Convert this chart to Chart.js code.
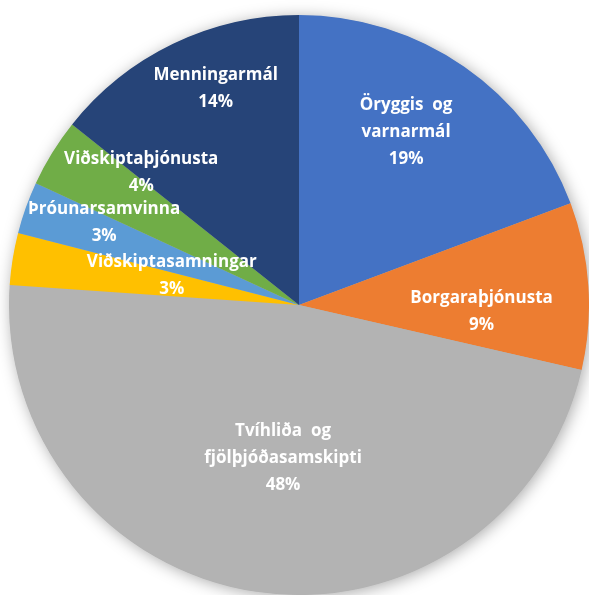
<!DOCTYPE html>
<html>
<head>
<meta charset="utf-8">
<script src="https://cdn.jsdelivr.net/npm/chart.js@4/dist/chart.umd.min.js"></script>
<style>
  html, body { margin: 0; padding: 0; background: #fff; overflow: hidden; }
  #wrap { position: relative; width: 589px; height: 595px; }
</style>
</head>
<body>
<div id="wrap"><canvas id="pie-canvas"></canvas></div>
<script>
const labels = [
  ["Öryggis  og", "varnarmál"],
  ["Borgaraþjónusta"],
  ["Tvíhliða  og", "fjölþjóðasamskipti"],
  ["Viðskiptasamningar"],
  ["Þróunarsamvinna"],
  ["Viðskiptaþjónusta"],
  ["Menningarmál"]
]
const shares = [19.3, 9.3, 47.5, 2.9, 2.9, 3.8, 14.3]
const percentText = ["19%", "9%", "48%", "3%", "3%", "4%", "14%"]

const colors = ["#4472C4", "#ED7D31", "#B3B3B3", "#FFC000", "#5B9BD5", "#70AD47", "#264478"]
// label placement: fraction of radius, angle shift in degrees
const labelPlace = [[0.70, -2.9], [0.63, 5.8], [0.53, -2.5], [0.45, 3.7], [0.73, 3.4], [0.71, 8.3], [0.80, 4.7]]

const shadowPlugin = {
  id: "pieShadow",
  beforeDatasetsDraw(chart) {
    const arc = chart.getDatasetMeta(0).data[0]
    if (!arc) return
    const ctx = chart.ctx
    ctx.save()
    ctx.shadowColor = "rgba(0,0,0,0.35)"
    ctx.shadowBlur = 16
    ctx.shadowOffsetX = 2
    ctx.shadowOffsetY = 2
    ctx.fillStyle = "#B3B3B3"
    ctx.beginPath()
    ctx.arc(arc.x, arc.y, arc.outerRadius - 0.5, 0, Math.PI * 2)
    ctx.fill()
    ctx.restore()
  }
}

const labelPlugin = {
  id: "sliceLabels",
  afterDatasetsDraw(chart) {
    const ctx = chart.ctx
    const arcs = chart.getDatasetMeta(0).data
    ctx.save()
    ctx.fillStyle = "#fff"
    ctx.font = "bold 17px 'Open Sans'"
    ctx.textAlign = "center"
    ctx.textBaseline = "middle"
    arcs.forEach((arc, i) => {
      const mid = (arc.startAngle + arc.endAngle) / 2 + labelPlace[i][1] * Math.PI / 180
      const r = arc.outerRadius * labelPlace[i][0]
      const cx = arc.x + Math.cos(mid) * r
      const cy = arc.y + Math.sin(mid) * r
      const lines = labels[i].concat([percentText[i]])
      const lh = 27
      const top = cy - (lines.length - 1) * lh / 2
      lines.forEach((t, j) => ctx.fillText(t, cx, top + j * lh))
    })
    ctx.restore()
  }
}

const pieCanvas = document.querySelector("#pie-canvas")
pieCanvas.width = 589
pieCanvas.height = 595

const pieChart = new Chart(pieCanvas, {
  type: "pie",
  data: {
    labels: labels.map(l => l.join(" ")),
    datasets: [{
      data: shares,
      backgroundColor: colors,
      borderWidth: 0
    }]
  },
  options: {
    responsive: false,
    animation: false,
    layout: { padding: { left: 9, right: 0, top: 15, bottom: 0 } },
    plugins: {
      legend: { display: false },
      tooltip: { enabled: false }
    }
  },
  plugins: [shadowPlugin, labelPlugin]
})
</script>
</body>
</html>
